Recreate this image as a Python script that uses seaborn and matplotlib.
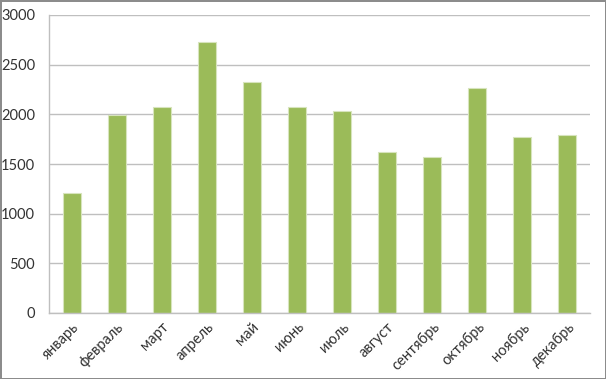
import matplotlib
matplotlib.use("Agg")
import matplotlib.pyplot as plt
import seaborn as sns
import pandas as pd
import numpy as np

months = ["январь", "февраль", "март", "апрель", "май", "июнь",
          "июль", "август", "сентябрь", "октябрь", "ноябрь", "декабрь"]
values = [1205, 1996, 2070, 2730, 2325, 2076, 2030, 1624, 1566, 2265, 1772, 1790]
yticks = [0, 500, 1000, 1500, 2000, 2500, 3000]

sns.set_style("white")
plt.rcParams['font.family'] = ['Lato', 'DejaVu Sans']

df = pd.DataFrame({"month": months, "value": values})

fig = plt.figure(figsize=(6.06, 3.79), dpi=100)
fig.patch.set_edgecolor("#8C8C8C")
fig.patch.set_linewidth(2)
ax = fig.add_axes([49/606, 1 - 313/379, (590-49)/606, (313-15)/379])

sns.barplot(data=df, x="month", y="value", ax=ax, width=0.4,
            color="#9BBB59", edgecolor="#D7E4BD", linewidth=0.8, saturation=1)

ax.set_ylim(0, 3000)
ax.set_xlim(-0.5, len(months) - 0.5)
ax.set_yticks(yticks)
ax.yaxis.grid(True, color="#BFBFBF", linewidth=1)
ax.set_axisbelow(True)
ax.set_xlabel("")
ax.set_ylabel("")

for s in ["top", "right"]:
    ax.spines[s].set_visible(False)
for s in ["left", "bottom"]:
    ax.spines[s].set_color("#BFBFBF")
    ax.spines[s].set_linewidth(1)

ax.tick_params(axis="y", length=0, labelsize=10.5, colors="#333333", pad=10)
ax.tick_params(axis="x", which="major", length=0, labelsize=10.5, colors="#333333", pad=5)
ax.set_xticks(np.arange(-0.5, len(months), 1), minor=True)
ax.tick_params(axis="x", which="minor", length=4, color="#BFBFBF", width=1)
for lbl in ax.get_xticklabels():
    lbl.set_rotation(45)
    lbl.set_ha("right")
    lbl.set_rotation_mode("anchor")

fig.savefig("out.png", dpi=100)
